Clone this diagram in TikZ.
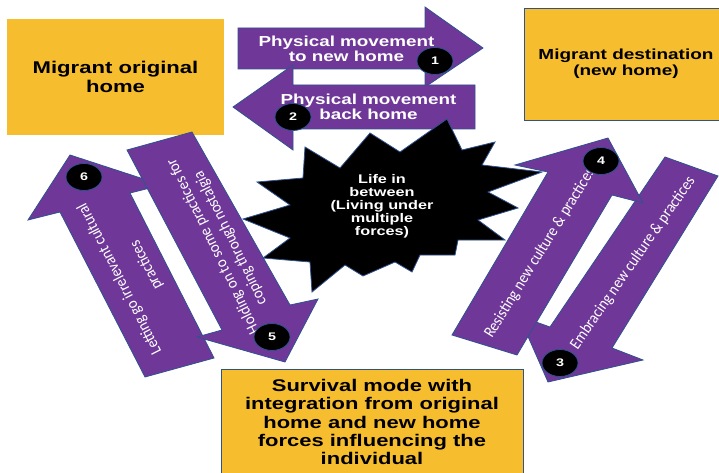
\documentclass[tikz,border=0pt]{standalone}
\usepackage{fontspec}
\usetikzlibrary{shapes.geometric}
\newfontfamily\hfont[FakeStretch=1.3]{Liberation Sans}
\newfontfamily\cfont[FakeStretch=0.9]{Carlito}
\definecolor{boxyellow}{HTML}{F6BE2E}
\definecolor{arrowpurple}{HTML}{6F3898}
\definecolor{edgeblue}{HTML}{2F528F}
\begin{document}
\begin{tikzpicture}[x=1pt,y=-1pt,
  blockarrow/.style={fill=arrowpurple,draw=edgeblue,line width=0.8pt,line join=miter},
  yellowbox/.style={fill=boxyellow,inner sep=0pt,align=center},
  boxedge/.style={draw=edgeblue,line width=0.6pt},
  badge/.style={ellipse,fill=black,draw=edgeblue,line width=0.8pt,minimum width=36pt,minimum height=27pt,inner sep=0pt,text=white,font=\hfont\bfseries\fontsize{11}{11}\selectfont},
  arrowtext/.style={text=white,align=center,font=\hfont\bfseries\fontsize{14.5}{15.5}\selectfont},
  slanttext/.style={text=white,align=center,inner sep=0pt}]
\useasboundingbox[fill=white] (0,0) rectangle (719,473);

% yellow boxes
\node[yellowbox,minimum width=217pt,minimum height=116pt,font=\hfont\bfseries\fontsize{17}{19}\selectfont] (orig) at (115.5,77) {Migrant original\\home};
\node[yellowbox,boxedge,minimum width=204pt,minimum height=112pt,font=\hfont\bfseries\fontsize{14.6}{16}\selectfont] (dest) at (626,64) {Migrant destination\\(new home)};
\node[yellowbox,boxedge,minimum width=302pt,minimum height=106pt,font=\hfont\bfseries\fontsize{16.9}{18.3}\selectfont] (surv) at (372,422) {Survival mode with\\integration from original\\home and new home\\forces influencing the\\individual};

% arrow 1 (to new home)
\draw[blockarrow] (238,28) -- (425,28) -- (425,7) -- (483,48) -- (425,87) -- (425,69) -- (238,69) -- cycle;
% arrow 2 (back home)
\draw[blockarrow] (475,85) -- (293,85) -- (293,65) -- (233,107) -- (293,150) -- (293,129) -- (475,129) -- cycle;
\node[arrowtext] (t1) at (346.5,49) {Physical movement\\to new home};
\node[arrowtext] (t2) at (368.5,107) {Physical movement\\back home};

% left pair
\draw[blockarrow] (70,155) -- (162,185) -- (130,193) -- (214,358) -- (145,377) -- (60,212) -- (28,220) -- cycle;
\draw[blockarrow] (127,150) -- (192,132) -- (290,305) -- (318,299) -- (285,362) -- (197,337) -- (222,330) -- cycle;
\node[slanttext,rotate=117,font=\cfont\fontsize{16.3}{30}\selectfont] (t6) at (133,272) {Letting go irrelevant cultural\\practices};
\node[slanttext,rotate=116,font=\cfont\fontsize{16.3}{19}\selectfont] (t5) at (222,242) {Holding on to some practices for\\coping through nostalgia};

% right pair
\draw[blockarrow] (665,157) -- (718,176) -- (612,348) -- (643,360) -- (548,382) -- (519,316) -- (550,327) -- cycle;
\draw[blockarrow] (608,138) -- (643,203) -- (612,195) -- (517,355) -- (452,335) -- (548,172) -- (515,165) -- cycle;
\node[slanttext,rotate=58.3,font=\cfont\fontsize{16.3}{19}\selectfont] (t4) at (540,253) {Resisting new culture \& practices};
\node[slanttext,rotate=55.2,font=\cfont\fontsize{16.3}{19}\selectfont] (t3) at (633,263) {Embracing new culture \& practices};

% star
\draw[fill=black,draw=edgeblue,line width=0.8pt,line join=miter]
 (447,119) -- (462,150) -- (495,142) -- (482,165) -- (542,172) -- (488,192) -- (518,208) -- (478,220) -- (505,240) -- (458,240) -- (455,255) -- (420,255) -- (412,272) -- (395,262) -- (363,276) -- (345,265) -- (312,292) -- (310,262) -- (263,258) -- (290,238) -- (243,219) -- (290,205) -- (257,182) -- (303,178) -- (305,147) -- (340,168) -- (370,133) -- (400,152) -- cycle;
\node[text=white,align=center,font=\hfont\bfseries\fontsize{12.5}{13}\selectfont] (life) at (382,206) {Life in\\between\\(Living under\\multiple\\forces)};

% badges
\node[badge] (b1) at (435,61) {1};
\node[badge] (b2) at (293,117) {2};
\node[badge] (b3) at (560,363) {3};
\node[badge] (b4) at (601,161) {4};
\node[badge] (b5) at (272,337) {5};
\node[badge] (b6) at (84,177) {6};
\end{tikzpicture}
\end{document}
